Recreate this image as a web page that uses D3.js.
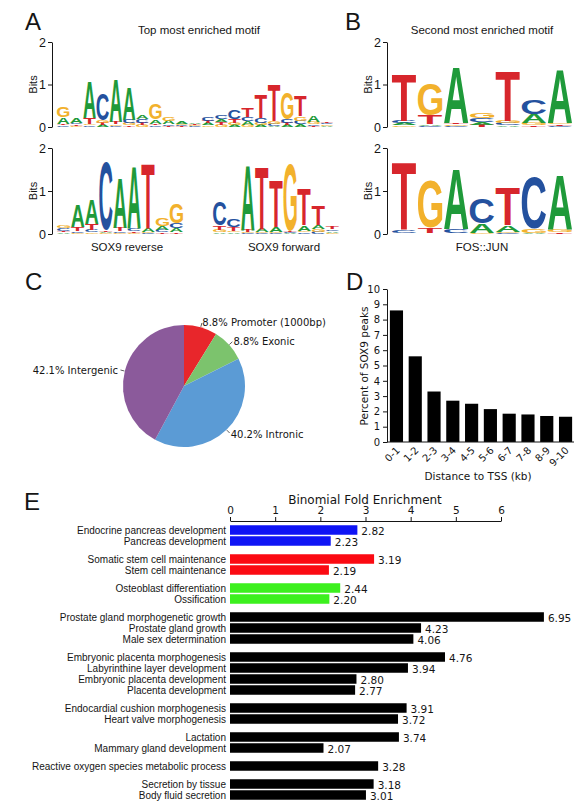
<!DOCTYPE html>
<html><head><meta charset="utf-8">
<script src="https://cdn.jsdelivr.net/npm/d3@7"></script>
<style>body{margin:0;background:#fff} svg{display:block}</style>
</head><body>
<svg id="c" width="583" height="804"></svg>
<script>
// ---------- DATA ----------
const bases = ["A","C","G","T"];
// each position: [A, C, G, T] heights in bits
const motifTop = [
 [0.16,0.04,0.25,0.04],[0.12,0.04,0.03,0.03],[0.86,0.04,0.04,0.14],[0.05,0.62,0.06,0.05],
 [1.00,0.03,0.03,0.05],[0.75,0.08,0.05,0.04],[0.10,0.08,0.05,0.05],[0.10,0.04,0.38,0.04],
 [0.08,0.04,0.08,0.03],[0.06,0.03,0.03,0.02],[0.03,0.02,0.02,0.02],[0.05,0.08,0.04,0.05],
 [0.07,0.10,0.05,0.06],[0.05,0.22,0.05,0.08],[0.08,0.10,0.05,0.20],[0.05,0.12,0.05,0.55],
 [0.03,0.05,0.06,0.86],[0.05,0.08,0.62,0.05],[0.07,0.08,0.10,0.50],[0.14,0.04,0.05,0.03],
 [0.03,0.04,0.03,0.04]
];
const motifSox9Rev = [
 [0.04,0.05,0.06,0.04],[0.50,0.04,0.03,0.10],[0.58,0.05,0.04,0.14],[0.03,1.58,0.02,0.04],
 [1.15,0.04,0.03,0.08],[1.45,0.05,0.03,0.03],[0.08,0.02,0.02,1.50],[0.10,0.05,0.18,0.04],
 [0.10,0.12,0.45,0.04]
];
const motifSox9Fwd = [
 [0.04,0.55,0.05,0.10],[0.04,0.18,0.04,0.08],[1.52,0.02,0.02,0.05],[0.08,0.02,0.02,1.45],
 [0.12,0.02,0.02,1.10],[0.02,0.02,1.55,0.02],[0.12,0.04,0.04,0.85],[0.10,0.05,0.06,0.45],
 [0.04,0.04,0.03,0.05]
];
const motifSecond = [
 [0.05,0.06,0.04,1.10],[0.04,0.03,0.75,0.20],[1.30,0.03,0.03,0.03],[0.06,0.10,0.12,0.05],
 [0.04,0.05,0.05,1.15],[0.20,0.35,0.05,0.04],[1.25,0.03,0.04,0.03]
];
const motifFosJun = [
 [0.01,0.07,0.01,1.58],[0.01,0.01,1.10,0.13],[1.38,0.10,0.01,0.01],[0.22,0.58,0.02,0.01],
 [0.16,0.02,0.02,0.86],[0.02,1.20,0.10,0.01],[1.28,0.01,0.05,0.04]
];
const baseColors = {A:"#1f9a3a", C:"#24519e", G:"#f2b12c", T:"#d7262c"};

const pieLabels = ["Promoter (1000bp)","Exonic","Intronic","Intergenic"];
const pieValues = [8.8, 8.8, 40.2, 42.1];
const pieColors = ["#e8262b","#7cc36d","#5b9bd5","#8b5a9b"];

const tssBins = ["0-1","1-2","2-3","3-4","4-5","5-6","6-7","7-8","8-9","9-10"];
const tssPercent = [8.6, 5.6, 3.3, 2.7, 2.5, 2.15, 1.85, 1.8, 1.7, 1.65];

const goTerms = ["Endocrine pancreas development","Pancreas development",
 "Somatic stem cell maintenance","Stem cell maintenance",
 "Osteoblast differentiation","Ossification",
 "Prostate gland morphogenetic growth","Prostate gland growth","Male sex determination",
 "Embryonic placenta morphogenesis","Labyrinthine layer development","Embryonic placenta development","Placenta development",
 "Endocardial cushion morphogenesis","Heart valve morphogenesis",
 "Lactation","Mammary gland development",
 "Reactive oxygen species metabolic process",
 "Secretion by tissue","Body fluid secretion"];
const goFold = [2.82,2.23,3.19,2.19,2.44,2.20,6.95,4.23,4.06,4.76,3.94,2.80,2.77,3.91,3.72,3.74,2.07,3.28,3.18,3.01];
const goGroup = [0,0,1,1,2,2,3,3,3,4,4,4,4,5,5,6,6,7,8,8];
const groupColors = ["#0f14f5","#fb0a12","#3cf01e","#000","#000","#000","#000","#000","#000"];
const foldTicks = [0,1,2,3,4,5,6];

// ---------- SETUP ----------
const svg = d3.select("#c");
const ARIAL = "'Liberation Sans', Arial, sans-serif";
const VERD = "'DejaVu Sans', Verdana, sans-serif";
const ink = "#151515";

// glyph metrics for logo letters
const ctx = document.createElement("canvas").getContext("2d");
ctx.font = "bold 100px 'Liberation Sans'";
const met = {};
bases.forEach(b => {
  const m = ctx.measureText(b);
  met[b] = {l: m.actualBoundingBoxLeft, w: m.actualBoundingBoxLeft + m.actualBoundingBoxRight,
            d: m.actualBoundingBoxDescent, h: m.actualBoundingBoxAscent + m.actualBoundingBoxDescent};
});

function panelLetter(t, x, y) {
  svg.append("text").attr("x", x).attr("y", y).text(t)
    .attr("font-family", ARIAL).attr("font-size", 24).attr("fill", ink);
}

function bitsAxis(axX, y0, y2) {
  const y = d3.scaleLinear().domain([0, 2]).range([y0, y2]);
  const g = svg.append("g").attr("transform", `translate(${axX},0)`)
    .call(d3.axisLeft(y).tickValues([0,1,2]).tickFormat(d3.format("d")).tickSize(4).tickSizeOuter(0));
  g.selectAll("text").attr("font-family", ARIAL).attr("font-size", 12.5).attr("fill", ink).attr("dx", 1);
  g.selectAll("line,path").attr("stroke", ink);
  svg.append("text").attr("transform", `translate(${axX - 15},${(y0 + y2) / 2}) rotate(-90)`)
    .attr("text-anchor", "middle").attr("font-family", ARIAL).attr("font-size", 11).attr("fill", ink).text("Bits");
}

function drawLogo(data, x0, x1, y0, y2) {
  const x = d3.scaleBand().domain(d3.range(data.length)).range([x0, x1]).paddingInner(0.06);
  const y = d3.scaleLinear().domain([0, 2]).range([y0, y2]);
  const g = svg.append("g");
  data.forEach((col, i) => {
    const items = bases.map((b, j) => ({b, v: col[j]})).sort((a, c) => a.v - c.v);
    let acc = 0;
    items.forEach(it => {
      const yb = y(acc), yt = y(acc + it.v);
      acc += it.v;
      const h = yb - yt;
      if (h < 0.4) return;
      const m = met[it.b];
      g.append("text").text(it.b)
        .attr("font-family", ARIAL).attr("font-weight", "bold").attr("font-size", 100)
        .attr("fill", baseColors[it.b])
        .attr("transform", `translate(${x(i)},${yb}) scale(${x.bandwidth() / m.w},${h / m.h}) translate(${m.l},${-m.d})`);
    });
  });
}

// ---------- PANEL A / B ----------
panelLetter("A", 25, 30);
panelLetter("B", 345, 30);
svg.append("text").attr("x", 199).attr("y", 34).attr("text-anchor", "middle")
  .attr("font-family", ARIAL).attr("font-size", 11.5).attr("fill", ink).text("Top most enriched motif");
svg.append("text").attr("x", 482).attr("y", 34).attr("text-anchor", "middle")
  .attr("font-family", ARIAL).attr("font-size", 11.5).attr("fill", ink).text("Second most enriched motif");

bitsAxis(52, 127, 42);
bitsAxis(52, 234, 148);
bitsAxis(387, 127, 42);
bitsAxis(387, 234, 148);

drawLogo(motifTop, 57, 333, 127, 42);
drawLogo(motifSox9Rev, 57, 183, 234, 148);
drawLogo(motifSox9Fwd, 213, 339, 234, 148);
drawLogo(motifSecond, 392, 572, 127, 42);
drawLogo(motifFosJun, 392, 572, 234, 148);

[["SOX9 reverse", 127], ["SOX9 forward", 284], ["FOS::JUN", 482]].forEach(([t, x]) => {
  svg.append("text").attr("x", x).attr("y", 251).attr("text-anchor", "middle")
    .attr("font-family", ARIAL).attr("font-size", 11.5).attr("fill", ink).text(t);
});

// ---------- PANEL C (pie) ----------
panelLetter("C", 25, 290);
const pcx = 184, pcy = 386, pr = 61;
const pie = d3.pie().sort(null).value(d => d)(pieValues);
const arc = d3.arc().innerRadius(0).outerRadius(pr);
const pg = svg.append("g").attr("transform", `translate(${pcx},${pcy})`);
pg.selectAll("path").data(pie).join("path").attr("d", arc).attr("fill", (d, i) => pieColors[i]);
pie.forEach((d, i) => {
  const a = (d.startAngle + d.endAngle) / 2;
  const pt = r => [Math.sin(a) * r, -Math.cos(a) * r];
  const p1 = pt(pr + 0.5), p2 = pt(pr + 4.5), p3 = pt(pr + 6);
  pg.append("line").attr("x1", p1[0]).attr("y1", p1[1]).attr("x2", p2[0]).attr("y2", p2[1])
    .attr("stroke", "#333").attr("stroke-width", 0.8);
  const right = Math.sin(a) >= 0;
  pg.append("text").attr("x", p3[0] + (right ? 0 : -1)).attr("y", p3[1] + 4)
    .attr("text-anchor", right ? "start" : "end")
    .attr("font-family", VERD).attr("font-size", 10).attr("fill", ink)
    .text(`${d3.format(".1f")(pieValues[i])}% ${pieLabels[i]}`);
});

// ---------- PANEL D (bars) ----------
panelLetter("D", 346, 290);
const dx = d3.scaleBand().domain(tssBins).range([388, 574]).paddingInner(0.3).paddingOuter(0.1);
const dy = d3.scaleLinear().domain([0, 10]).range([442, 289]);
const dg = svg.append("g");
dg.selectAll("rect").data(tssPercent).join("rect")
  .attr("x", (d, i) => dx(tssBins[i])).attr("width", dx.bandwidth())
  .attr("y", d => dy(d)).attr("height", d => dy(0) - dy(d)).attr("fill", "#000");
const dyAx = svg.append("g").attr("transform", "translate(387,0)")
  .call(d3.axisLeft(dy).ticks(10).tickSize(4).tickSizeOuter(0));
dyAx.selectAll("text").attr("font-family", VERD).attr("font-size", 10).attr("fill", ink);
dyAx.selectAll("line,path").attr("stroke", ink);
const dxAx = svg.append("g").attr("transform", "translate(0,442)")
  .call(d3.axisBottom(dx).tickSize(0).tickSizeOuter(0));
dxAx.select(".domain").attr("d", "M387,0H574").attr("stroke", ink);
dxAx.selectAll("text").attr("font-family", VERD).attr("font-size", 10).attr("fill", ink)
  .attr("text-anchor", "end").attr("dy", 0).attr("y", 0)
  .attr("transform", "translate(4,9) rotate(-45)");
svg.append("text").attr("transform", "translate(368,366) rotate(-90)").attr("text-anchor", "middle")
  .attr("font-family", VERD).attr("font-size", 10.5).attr("fill", ink).text("Percent of SOX9 peaks");
svg.append("text").attr("x", 478).attr("y", 480).attr("text-anchor", "middle")
  .attr("font-family", VERD).attr("font-size", 10.5).attr("fill", ink).text("Distance to TSS (kb)");

// ---------- PANEL E (horizontal bars) ----------
panelLetter("E", 24, 510);
const ex = d3.scaleLinear().domain([0, 6]).range([230, 501]);
const rowStep = 11, groupGap = 7, firstRow = 530;
const rowY = goTerms.map((t, i) => firstRow + i * rowStep + goGroup[i] * groupGap);
const eAx = svg.append("g").attr("transform", "translate(0,521)")
  .call(d3.axisTop(ex).tickValues(foldTicks).tickFormat(d3.format("d")).tickSize(4).tickSizeOuter(0));
eAx.selectAll("text").attr("font-family", VERD).attr("font-size", 10.5).attr("fill", ink);
eAx.selectAll("line,path").attr("stroke", ink);
svg.append("text").attr("x", 365).attr("y", 504).attr("text-anchor", "middle")
  .attr("font-family", VERD).attr("font-size", 12).attr("fill", ink).text("Binomial Fold Enrichment");
const eg = svg.append("g");
const barH = 9.5;
eg.selectAll("rect").data(goFold).join("rect")
  .attr("x", ex(0)).attr("y", (d, i) => rowY[i] - barH / 2)
  .attr("width", d => ex(d) - ex(0)).attr("height", barH)
  .attr("fill", (d, i) => groupColors[goGroup[i]]);
eg.selectAll("text.val").data(goFold).join("text").attr("class", "val")
  .attr("x", d => ex(d) + 4).attr("y", (d, i) => rowY[i] + 4.5)
  .attr("font-family", VERD).attr("font-size", 10.5).attr("fill", ink).text(d => d3.format(".2f")(d));
eg.selectAll("text.lab").data(goTerms).join("text").attr("class", "lab")
  .attr("x", ex(0) - 4).attr("y", (d, i) => rowY[i] + 3.5).attr("text-anchor", "end")
  .attr("font-family", ARIAL).attr("font-size", 10).attr("fill", ink).text(d => d);
</script>
</body></html>
